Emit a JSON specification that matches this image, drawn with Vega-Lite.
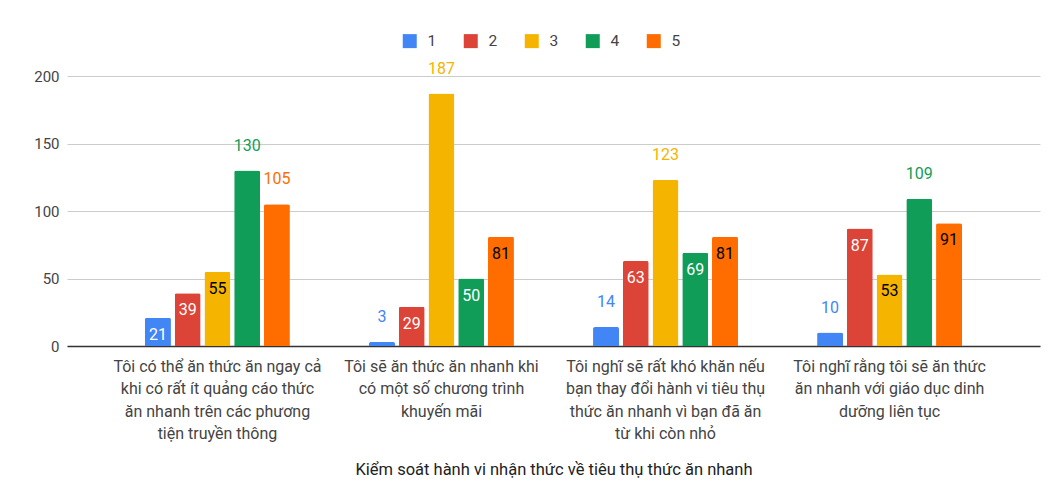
{
  "$schema": "https://vega.github.io/schema/vega-lite/v6.json",
  "width": 973,
  "height": 270,
  "autosize": {"type": "none"},
  "padding": {"left": 67, "top": 76, "right": 11, "bottom": 153},
  "background": "#ffffff",
  "config": {
    "font": "Roboto",
    "view": {"stroke": null},
    "axis": {"labelFont": "Roboto", "titleFont": "Roboto"},
    "legend": {"labelFont": "Roboto"}
  },
  "data": {
    "values": [
      {"q": "Tôi có thể ăn thức ăn ngay cả khi có rất ít quảng cáo thức ăn nhanh trên các phương tiện truyền thông", "s": "1", "v": 21},
      {"q": "Tôi có thể ăn thức ăn ngay cả khi có rất ít quảng cáo thức ăn nhanh trên các phương tiện truyền thông", "s": "2", "v": 39},
      {"q": "Tôi có thể ăn thức ăn ngay cả khi có rất ít quảng cáo thức ăn nhanh trên các phương tiện truyền thông", "s": "3", "v": 55},
      {"q": "Tôi có thể ăn thức ăn ngay cả khi có rất ít quảng cáo thức ăn nhanh trên các phương tiện truyền thông", "s": "4", "v": 130},
      {"q": "Tôi có thể ăn thức ăn ngay cả khi có rất ít quảng cáo thức ăn nhanh trên các phương tiện truyền thông", "s": "5", "v": 105},
      {"q": "Tôi sẽ ăn thức ăn nhanh khi có một số chương trình khuyến mãi", "s": "1", "v": 3},
      {"q": "Tôi sẽ ăn thức ăn nhanh khi có một số chương trình khuyến mãi", "s": "2", "v": 29},
      {"q": "Tôi sẽ ăn thức ăn nhanh khi có một số chương trình khuyến mãi", "s": "3", "v": 187},
      {"q": "Tôi sẽ ăn thức ăn nhanh khi có một số chương trình khuyến mãi", "s": "4", "v": 50},
      {"q": "Tôi sẽ ăn thức ăn nhanh khi có một số chương trình khuyến mãi", "s": "5", "v": 81},
      {"q": "Tôi nghĩ sẽ rất khó khăn nếu bạn thay đổi hành vi tiêu thụ thức ăn nhanh vì bạn đã ăn từ khi còn nhỏ", "s": "1", "v": 14},
      {"q": "Tôi nghĩ sẽ rất khó khăn nếu bạn thay đổi hành vi tiêu thụ thức ăn nhanh vì bạn đã ăn từ khi còn nhỏ", "s": "2", "v": 63},
      {"q": "Tôi nghĩ sẽ rất khó khăn nếu bạn thay đổi hành vi tiêu thụ thức ăn nhanh vì bạn đã ăn từ khi còn nhỏ", "s": "3", "v": 123},
      {"q": "Tôi nghĩ sẽ rất khó khăn nếu bạn thay đổi hành vi tiêu thụ thức ăn nhanh vì bạn đã ăn từ khi còn nhỏ", "s": "4", "v": 69},
      {"q": "Tôi nghĩ sẽ rất khó khăn nếu bạn thay đổi hành vi tiêu thụ thức ăn nhanh vì bạn đã ăn từ khi còn nhỏ", "s": "5", "v": 81},
      {"q": "Tôi nghĩ rằng tôi sẽ ăn thức ăn nhanh với giáo dục dinh dưỡng liên tục", "s": "1", "v": 10},
      {"q": "Tôi nghĩ rằng tôi sẽ ăn thức ăn nhanh với giáo dục dinh dưỡng liên tục", "s": "2", "v": 87},
      {"q": "Tôi nghĩ rằng tôi sẽ ăn thức ăn nhanh với giáo dục dinh dưỡng liên tục", "s": "3", "v": 53},
      {"q": "Tôi nghĩ rằng tôi sẽ ăn thức ăn nhanh với giáo dục dinh dưỡng liên tục", "s": "4", "v": 109},
      {"q": "Tôi nghĩ rằng tôi sẽ ăn thức ăn nhanh với giáo dục dinh dưỡng liên tục", "s": "5", "v": 91}
    ]
  },
  "encoding": {
    "x": {
      "field": "q",
      "type": "nominal",
      "sort": null,
      "scale": {"paddingInner": 0.353, "paddingOuter": 0.348},
      "title": "Kiểm soát hành vi nhận thức về tiêu thụ thức ăn nhanh",
      "axis": {
        "labelAngle": 0,
        "labelFontSize": 16,
        "labelColor": "#444444",
        "labelLineHeight": 22.5,
        "labelPadding": 12,
        "labelLimit": 300,
        "ticks": false,
        "domainColor": "#333333",
        "domainWidth": 1.5,
        "titleFontSize": 16.5,
        "titleFontWeight": "normal",
        "titleColor": "#222222",
        "titlePadding": 20,
        "labelExpr": "datum.label == 'Tôi có thể ăn thức ăn ngay cả khi có rất ít quảng cáo thức ăn nhanh trên các phương tiện truyền thông' ? ['Tôi có thể ăn thức ăn ngay cả', 'khi có rất ít quảng cáo thức', 'ăn nhanh trên các phương', 'tiện truyền thông'] : datum.label == 'Tôi sẽ ăn thức ăn nhanh khi có một số chương trình khuyến mãi' ? ['Tôi sẽ ăn thức ăn nhanh khi', 'có một số chương trình', 'khuyến mãi'] : datum.label == 'Tôi nghĩ sẽ rất khó khăn nếu bạn thay đổi hành vi tiêu thụ thức ăn nhanh vì bạn đã ăn từ khi còn nhỏ' ? ['Tôi nghĩ sẽ rất khó khăn nếu', 'bạn thay đổi hành vi tiêu thụ', 'thức ăn nhanh vì bạn đã ăn', 'từ khi còn nhỏ'] : ['Tôi nghĩ rằng tôi sẽ ăn thức', 'ăn nhanh với giáo dục dinh', 'dưỡng liên tục']"
      }
    },
    "xOffset": {
      "field": "s",
      "type": "nominal",
      "scale": {"paddingInner": 0.126, "paddingOuter": 0}
    },
    "y": {
      "field": "v",
      "type": "quantitative",
      "scale": {"domain": [0, 200]},
      "title": null,
      "axis": {
        "values": [0, 50, 100, 150, 200],
        "labelFontSize": 15,
        "labelColor": "#444444",
        "labelPadding": 8,
        "ticks": false,
        "domain": false,
        "gridColor": "#cccccc",
        "gridWidth": 1
      }
    }
  },
  "layer": [
    {
      "mark": {"type": "bar", "cornerRadiusTopLeft": 2, "cornerRadiusTopRight": 2},
      "encoding": {
        "color": {
          "field": "s",
          "type": "nominal",
          "scale": {"domain": ["1", "2", "3", "4", "5"], "range": ["#4285F4", "#DB4437", "#F4B400", "#0F9D58", "#FF6D01"]},
          "legend": {
            "title": null,
            "orient": "none",
            "direction": "horizontal",
            "legendX": 335,
            "legendY": -43,
            "symbolType": "square",
            "symbolSize": 196,
            "symbolStrokeWidth": 0,
            "labelFontSize": 15.5,
            "labelColor": "#444444",
            "labelOffset": 10,
            "columnPadding": 26,
            "padding": 0
          }
        }
      }
    },
    {
      "transform": [{"filter": "datum.v >= 20 && datum.v <= 100"}],
      "mark": {"type": "text", "fontSize": 16, "baseline": "middle", "dy": 17},
      "encoding": {
        "text": {"field": "v", "type": "quantitative"},
        "color": {
          "condition": {"test": "datum.s == '3' || datum.s == '5'", "value": "#000000"},
          "value": "#ffffff"
        }
      }
    },
    {
      "transform": [{"filter": "datum.v < 20 || datum.v > 100"}],
      "mark": {"type": "text", "fontSize": 16, "baseline": "middle", "dy": -25},
      "encoding": {
        "text": {"field": "v", "type": "quantitative"},
        "color": {"field": "s", "type": "nominal", "legend": null}
      }
    }
  ]
}
